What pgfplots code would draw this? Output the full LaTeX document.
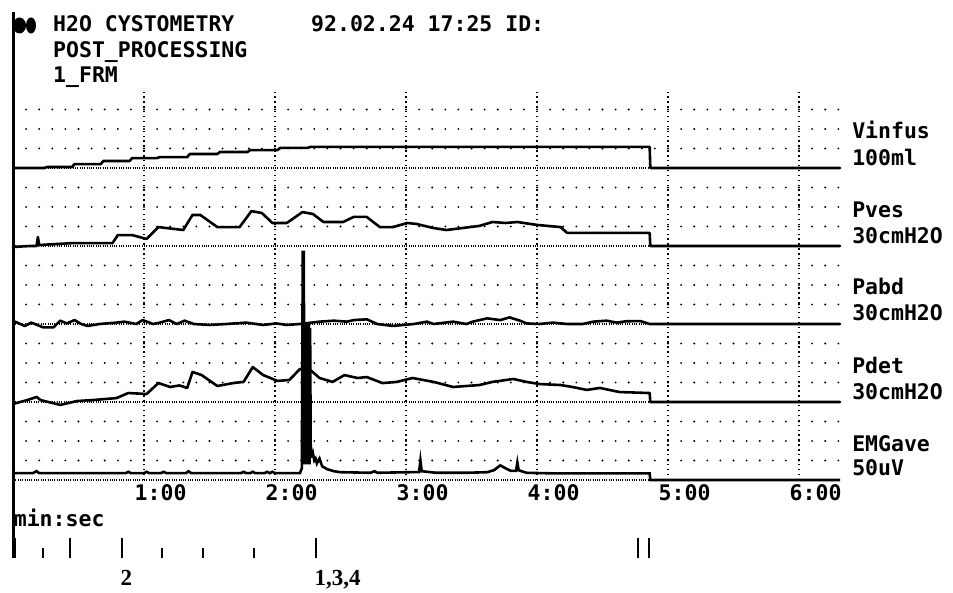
\documentclass[border=0pt]{standalone}
\usepackage{pgfplots}
\usepackage{pgfplotstable}
\pgfplotsset{compat=1.18}
\usepackage{fontspec}
\newfontfamily\plotfont{DejaVu Sans Mono}
\newfontfamily\markfont{Liberation Serif}
\newcommand{\pf}{\plotfont\bfseries\fontsize{21.5bp}{25bp}\selectfont}

% Vinfus (units above channel baseline; 4 units = full scale)
\pgfplotstableread{
t v
0.00 0.00
0.24 0.00
0.26 0.05
0.45 0.05
0.47 0.20
0.67 0.20
0.69 0.36
0.89 0.36
0.91 0.51
1.10 0.51
1.12 0.56
1.33 0.56
1.35 0.72
1.56 0.72
1.58 0.82
1.79 0.82
1.81 0.92
2.02 0.92
2.04 1.03
2.25 1.03
2.27 1.08
4.86 1.08
4.865 0.00
6.313 0.00
}\vinfus

\pgfplotstableread{
t v
0.00 -0.05
0.13 0.00
0.18 0.00
0.19 0.46
0.20 0.05
0.46 0.15
0.76 0.15
0.80 0.56
0.91 0.56
1.02 0.36
1.11 0.97
1.30 0.82
1.37 1.59
1.43 1.59
1.56 0.97
1.73 0.97
1.82 1.79
1.90 1.69
1.98 1.18
2.09 1.18
2.21 1.74
2.29 1.64
2.37 1.23
2.52 1.23
2.60 1.49
2.70 1.49
2.80 0.97
2.90 0.97
3.01 1.18
3.08 1.13
3.21 0.92
3.31 0.82
3.56 1.03
3.66 1.23
3.76 1.18
3.85 1.23
4.00 1.08
4.18 0.97
4.23 0.67
4.86 0.67
4.865 0.00
6.313 0.00
}\pves

\pgfplotstableread{
t v
0.015 0.12
0.09 -0.10
0.14 0.07
0.23 -0.17
0.31 -0.17
0.36 0.17
0.41 0.03
0.47 0.20
0.52 0.00
0.57 -0.10
0.66 0.00
0.79 0.07
0.85 0.12
0.94 0.00
0.99 0.20
1.07 0.00
1.12 0.07
1.19 0.20
1.25 0.00
1.31 0.17
1.38 0.00
1.50 -0.05
1.63 0.00
1.78 0.07
1.91 -0.05
2.01 0.03
2.09 -0.05
2.19 0.00
2.34 0.12
2.45 0.17
2.55 0.12
2.60 0.20
2.70 0.24
2.78 0.00
2.90 -0.10
3.06 0.00
3.16 0.12
3.21 0.00
3.36 0.12
3.46 0.00
3.51 0.12
3.62 0.29
3.72 0.20
3.79 0.34
3.87 0.17
3.92 0.03
4.02 0.00
4.12 0.07
4.23 0.00
4.35 0.00
4.43 0.12
4.53 0.17
4.61 0.07
4.68 0.14
4.79 0.15
4.86 0.00
6.313 0.00
}\pabd

\pgfplotstableread{
t v
0.00 -0.10
0.11 0.10
0.18 0.26
0.21 0.10
0.36 -0.15
0.49 0.05
0.61 0.10
0.79 0.20
0.88 0.46
1.02 0.41
1.11 0.97
1.20 0.77
1.27 0.85
1.33 0.72
1.37 1.54
1.44 1.38
1.56 0.82
1.68 0.97
1.76 1.03
1.83 1.79
1.91 1.38
2.02 1.08
2.11 1.13
2.19 1.69
2.27 1.64
2.34 1.23
2.44 1.03
2.53 1.38
2.63 1.23
2.70 1.28
2.82 0.97
2.93 1.03
3.05 1.23
3.21 1.03
3.36 0.77
3.56 0.87
3.66 1.03
3.82 1.18
3.92 1.03
4.02 0.92
4.18 0.87
4.27 0.77
4.38 0.62
4.48 0.72
4.63 0.51
4.86 0.46
4.865 0.00
6.313 0.00
}\pdet

\pgfplotstableread{
t v
0.000 0.35
0.15 0.35
0.18 0.45
0.20 0.35
0.86 0.35
0.88 0.42
0.90 0.35
1.00 0.35
1.02 0.42
1.04 0.35
1.13 0.35
1.15 0.42
1.17 0.35
1.32 0.35
1.34 0.45
1.36 0.35
1.74 0.35
1.76 0.42
1.78 0.35
1.81 0.35
1.83 0.42
1.85 0.35
1.92 0.35
1.94 0.42
1.96 0.35
1.98 0.42
2.00 0.35
2.19 0.35
2.205 0.60
2.212 11.70
2.220 11.70
2.224 0.80
2.229 8.00
2.234 0.80
2.239 8.00
2.244 0.80
2.249 8.00
2.254 0.80
2.259 8.00
2.264 0.80
2.268 7.80
2.273 1.20
2.285 1.20
2.29 1.35
2.30 1.00
2.31 1.10
2.32 0.85
2.34 1.10
2.36 0.70
2.40 0.55
2.45 0.45
2.50 0.40
2.73 0.37
2.76 0.45
2.78 0.37
3.03 0.40
3.10 0.40
3.11 1.00
3.12 0.45
3.23 0.37
3.46 0.37
3.62 0.40
3.67 0.50
3.72 0.75
3.76 0.60
3.80 0.47
3.84 0.47
3.85 0.90
3.86 0.50
3.92 0.37
4.12 0.34
4.86 0.34
4.865 0.00
6.313 0.00
}\emg

\begin{document}
\begin{tikzpicture}
\useasboundingbox (0,0) rectangle (953bp,593bp);
\begin{axis}[
  at={(13bp,113bp)}, anchor=south west,
  scale only axis, width=827bp, height=390bp,
  xmin=0, xmax=6.313, ymin=0, ymax=20,
  clip=false,
  axis line style={draw=none},
  tick style={draw=none},
  major tick length=0pt,
  ytick=\empty,
  xtick={1,2,3,4,5,6},
  xticklabels={1:00,2:00,3:00,4:00,5:00,6:00},
  xticklabel style={font=\pf, anchor=base west, inner sep=0pt, xshift=-9.5bp, yshift=-20bp},
  xlabel={min:sec},
  xlabel style={font=\pf, at={(axis description cs:0.0008,-0.1205)}, anchor=base west, inner sep=0pt},
  trace/.style={black, line width=2.6bp, line join=round, line cap=round, mark=none},
]
% grid: sparse dot rows
\pgfplotsinvokeforeach{1,2,3,5,6,7,9,10,11,13,14,15,17,18,19}{
  \draw[line width=2.1bp, line cap=round, dash pattern=on 0bp off 13.1bp] (axis cs:0,#1) -- (axis cs:6.313,#1);
}
% dense dotted baselines
\pgfplotsinvokeforeach{0,4,8,12,16}{
  \draw[line width=1.3bp, dash pattern=on 1bp off 1.3bp] (axis cs:0,#1) -- (axis cs:6.313,#1);
}
% vertical minute grid
\pgfplotsinvokeforeach{1,2,3,4,5,6}{
  \draw[line width=1.6bp, dash pattern=on 1.4bp off 3.5bp] (axis cs:#1,0) -- (axis cs:#1,19.9);
}
\addplot[trace] table[x=t, y expr=\thisrow{v}+16] {\vinfus};
\addplot[trace] table[x=t, y expr=\thisrow{v}+12] {\pves};
\addplot[trace] table[x=t, y expr=\thisrow{v}+8] {\pabd};
\addplot[trace] table[x=t, y expr=\thisrow{v}+4] {\pdet};
\addplot[trace, line join=miter, line cap=butt] table[x=t, y expr=\thisrow{v}] {\emg};
% event markers
\addplot[black, line width=2bp, unbounded coords=jump, mark=none] coordinates {
 (0.015,-4) (0.015,-2.97) (0.015,nan)
 (0.23,-4) (0.23,-3.49) (0.23,nan)
 (0.435,-4) (0.435,-2.97) (0.435,nan)
 (0.83,-4) (0.83,-2.97) (0.83,nan)
 (1.14,-4) (1.14,-3.49) (1.14,nan)
 (1.45,-4) (1.45,-3.49) (1.45,nan)
 (1.84,-4) (1.84,-3.49) (1.84,nan)
 (2.31,-4) (2.31,-2.97) (2.31,nan)
 (4.77,-4) (4.77,-2.97) (4.77,nan)
 (4.855,-4) (4.855,-2.97)
};
\node[anchor=base west, inner sep=0pt, font=\markfont\bfseries\fontsize{23bp}{26bp}\selectfont] at (axis cs:0.82,-5.42) {2};
\node[anchor=base west, inner sep=0pt, font=\markfont\bfseries\fontsize{23bp}{26bp}\selectfont] at (axis cs:2.30,-5.42) {1,3,4};
% channel labels
\begin{scope}[every node/.style={anchor=base west, inner sep=0pt, font=\pf}]
\node at (axis cs:6.405,17.51) {Vinfus};
\node at (axis cs:6.405,16.13) {100ml};
\node at (axis cs:6.405,13.46) {Pves};
\node at (axis cs:6.405,12.13) {30cmH2O};
\node at (axis cs:6.405,9.51) {Pabd};
\node at (axis cs:6.405,8.18) {30cmH2O};
\node at (axis cs:6.405,5.46) {Pdet};
\node at (axis cs:6.405,4.13) {30cmH2O};
\node at (axis cs:6.405,1.46) {EMGave};
\node at (axis cs:6.405,0.23) {50uV};
\end{scope}
\end{axis}
% left border line and header
\draw[line width=2.8bp] (13.5bp,581bp) -- (13.5bp,35bp);
\fill (19.5bp,567.5bp) ellipse [x radius=6.5bp, y radius=8bp];
\fill (31bp,567.5bp) ellipse [x radius=5bp, y radius=8bp];
\begin{scope}[every node/.style={anchor=base west, inner sep=0pt, font=\pf}]
\node at (53bp,561bp) {H2O CYSTOMETRY};
\node at (311bp,561bp) {92.02.24 17:25  ID:};
\node at (53bp,535bp) {POST\_PROCESSING};
\node at (53bp,510bp) {1\_FRM};
\end{scope}
\end{tikzpicture}
\end{document}
